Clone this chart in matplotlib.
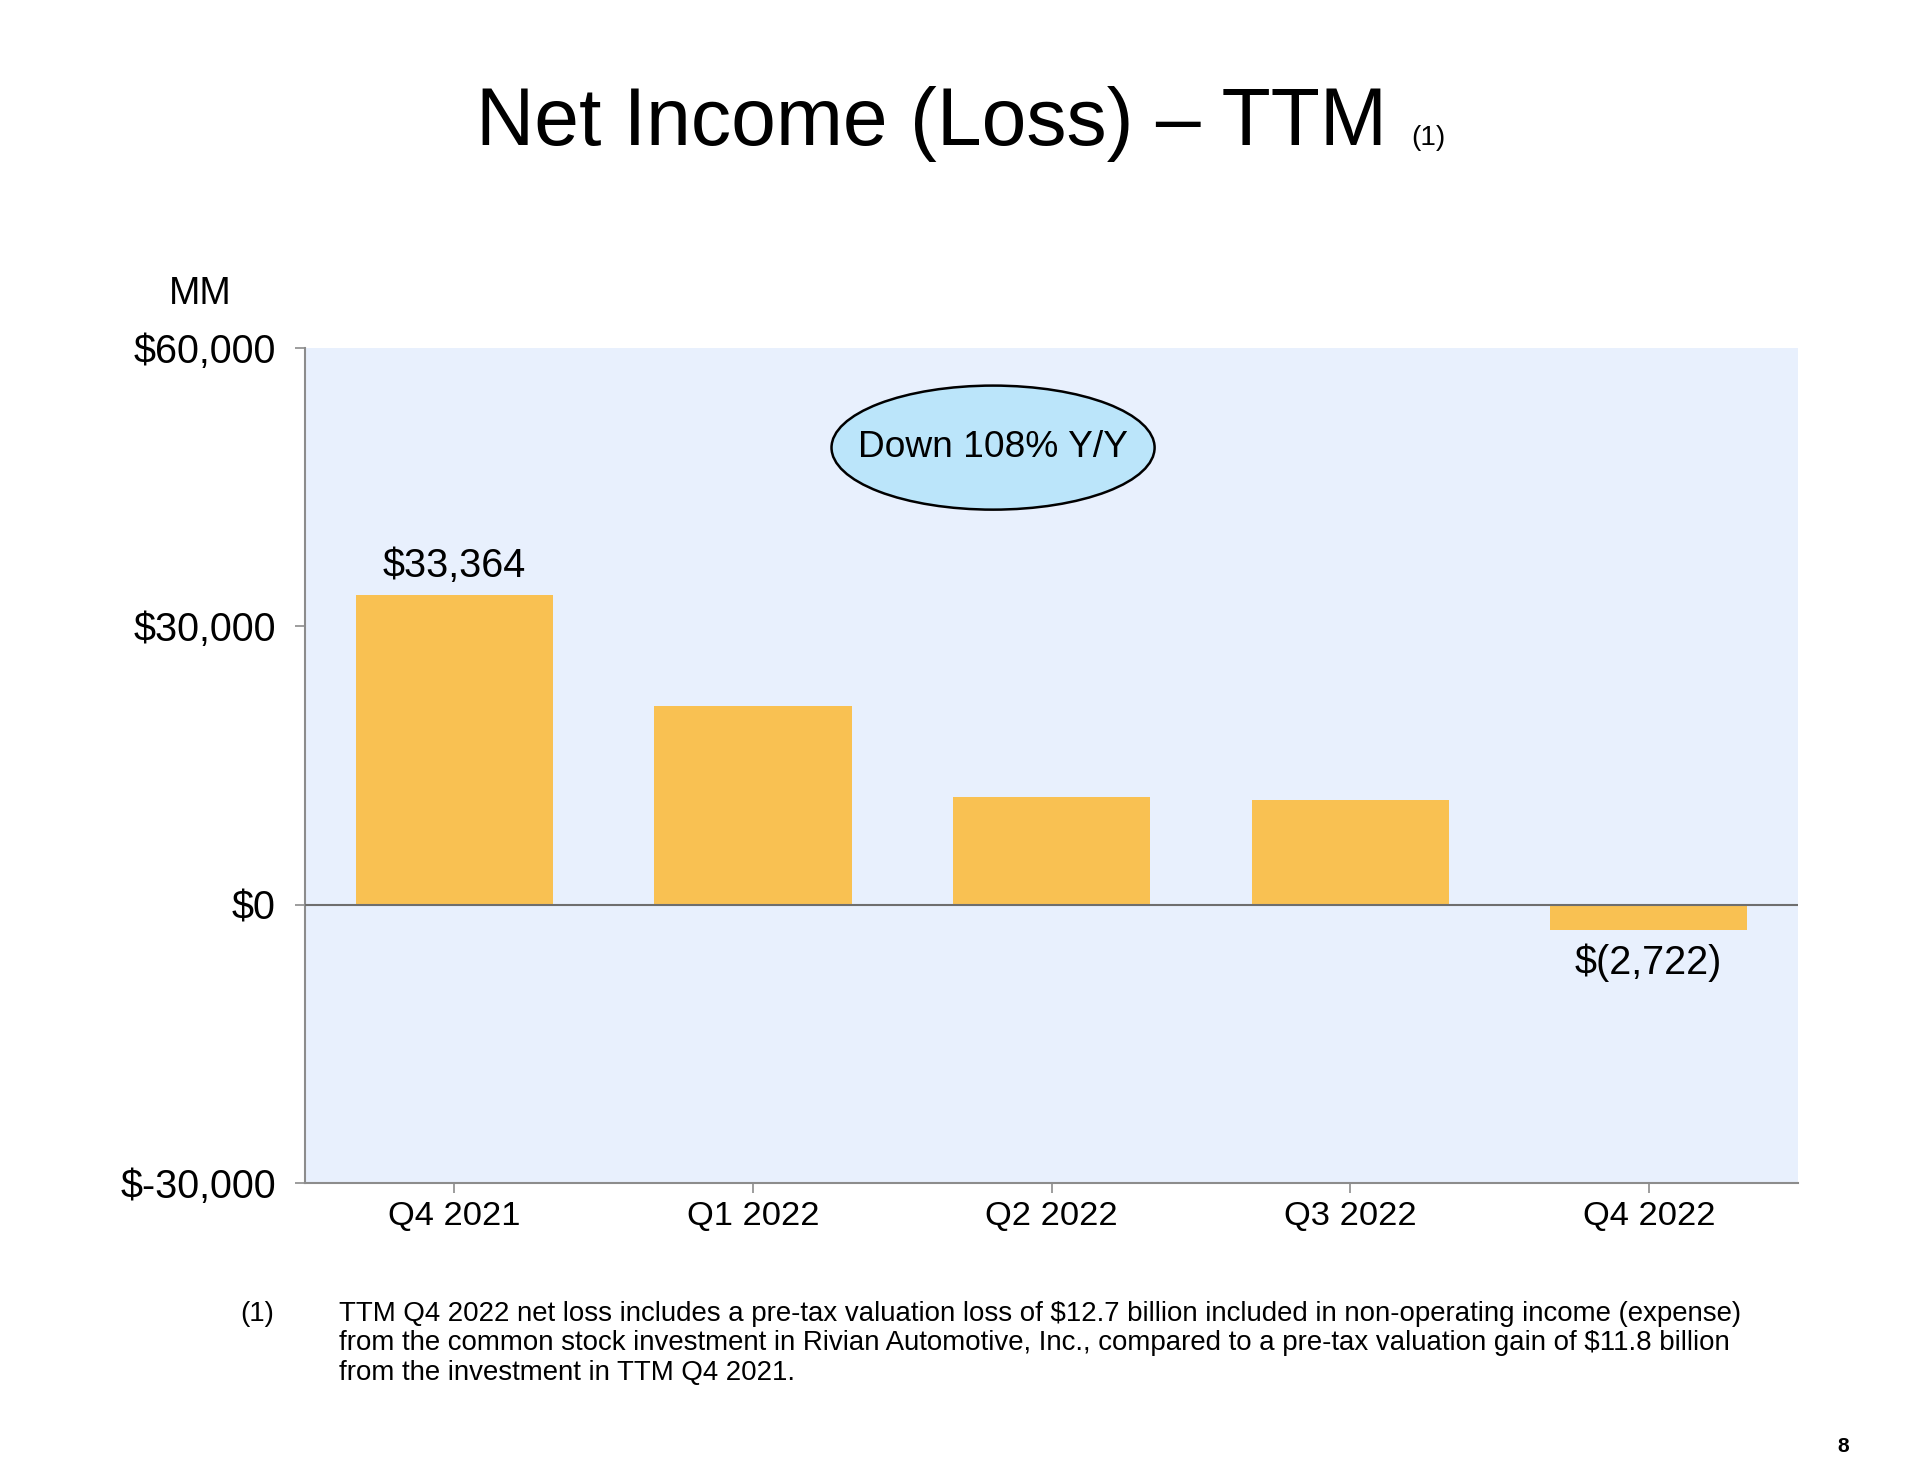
import matplotlib
matplotlib.use("Agg")
import matplotlib.pyplot as plt
from matplotlib.patches import Ellipse

plt.rcParams['font.family'] = ['Liberation Sans', 'DejaVu Sans']

# data (MM USD, trailing twelve months)
quarters = ['Q4 2021', 'Q1 2022', 'Q2 2022', 'Q3 2022', 'Q4 2022']
net_income = [33364, 21413, 11607, 11323, -2722]
labelled = {0: '$33,364', 4: '$(2,722)'}
y_ticks = [-30000, 0, 30000, 60000]
y_tick_labels = ['$-30,000', '$0', '$30,000', '$60,000']

footnote = ['TTM Q4 2022 net loss includes a pre-tax valuation loss of $12.7 billion included in non-operating income (expense)',
            'from the common stock investment in Rivian Automotive, Inc., compared to a pre-tax valuation gain of $11.8 billion',
            'from the investment in TTM Q4 2021.']

fig = plt.figure(figsize=(19.2, 14.67), dpi=100)
ax = fig.add_axes([0.1589, 0.1936, 0.9365 - 0.1589, 0.7628 - 0.1936])
ax.set_facecolor('#E8F0FD')

x = range(len(quarters))
ax.bar(x, net_income, width=0.66, color='#F9C152', zorder=2)
ax.axhline(0, color='#6E6E6E', lw=1.5, zorder=3)

ax.set_xlim(-0.5, 4.5)
ax.set_ylim(-30000, 60000)
ax.set_yticks(y_ticks)
ax.set_yticklabels(y_tick_labels)
ax.set_xticks(list(x))
ax.set_xticklabels(quarters)
ax.tick_params(axis='y', labelsize=28.5, length=7, width=1.2, color='#8C8C8C', pad=14)
ax.tick_params(axis='x', labelsize=24.8, length=7, width=1.2, color='#8C8C8C', pad=6)
for s in ['top', 'right']:
    ax.spines[s].set_visible(False)
for s in ['left', 'bottom']:
    ax.spines[s].set_color('#8C8C8C')
    ax.spines[s].set_linewidth(1.5)

# value labels
for i, txt in labelled.items():
    v = net_income[i]
    if v >= 0:
        ax.annotate(txt, (i, v), xytext=(0, 13), textcoords='offset points',
                    ha='center', va='baseline', fontsize=28.5)
    else:
        ax.annotate(txt, (i, v), xytext=(0, -32), textcoords='offset points',
                    ha='center', va='baseline', fontsize=28.5)

# callout bubble
ax.add_patch(Ellipse((1.804, 49260), 1.082, 13370, facecolor='#BBE5FA',
                     edgecolor='black', lw=1.8, zorder=4))
ax.text(1.804, 48200, 'Down 108% Y/Y', ha='center', va='baseline', fontsize=26.7, zorder=5)

# title
fig.text(931 / 1920, 1 - 145 / 1467, 'Net Income (Loss) – TTM', ha='center', va='baseline', fontsize=58)
fig.text(1411 / 1920, 1 - 145 / 1467, '(1)', ha='left', va='baseline', fontsize=20)

fig.text(200 / 1920, 1 - 304 / 1467, 'MM', ha='center', va='baseline', fontsize=27)

# footnote
fig.text(240 / 1920, 1 - 1321 / 1467, '(1)', ha='left', va='baseline', fontsize=19.9)
for k, line in enumerate(footnote):
    fig.text(339 / 1920, 1 - (1321 + 29.5 * k) / 1467, line, ha='left', va='baseline', fontsize=19.9)

fig.text(1843 / 1920, 1 - 1452 / 1467, '8', ha='center', va='baseline', fontsize=15, fontweight='bold')

fig.savefig('out.png', dpi=100, facecolor='white')
